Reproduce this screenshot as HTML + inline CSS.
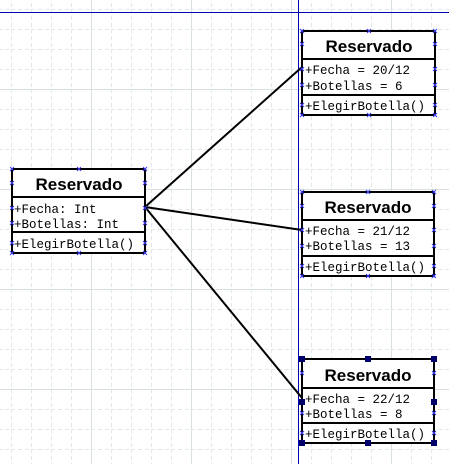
<!DOCTYPE html>
<html><head><meta charset="utf-8"><style>
html,body{margin:0;padding:0;background:#fff;}
svg{display:block}
.t{font-family:"Liberation Sans",Arial,sans-serif;font-weight:bold;font-size:17px;}
.m{font-family:"Liberation Mono",monospace;font-size:12.5px;}
</style></head><body>
<svg width="449" height="464" viewBox="0 0 449 464" xmlns="http://www.w3.org/2000/svg">
<defs>
<pattern id="minor" x="11" y="9" width="20" height="20" patternUnits="userSpaceOnUse">
<path d="M0.5 0 V20 M0 0.5 H20" stroke="#e2e8e8" stroke-width="1" stroke-dasharray="4,3" fill="none"/>
</pattern>
<pattern id="major" x="91" y="89" width="100" height="100" patternUnits="userSpaceOnUse">
<path d="M0.5 0 V100 M0 0.5 H100" stroke="#d8e0e0" stroke-width="1" fill="none"/>
</pattern>
<g id="x"><path d="M-2 -2 L2 2 M-2 2 L2 -2" stroke="#3a3af0" stroke-width="1"/></g>
</defs>
<rect width="449" height="464" fill="#fff"/>
<rect width="449" height="464" fill="url(#minor)"/>
<rect width="449" height="464" fill="url(#major)"/>
<line x1="0" y1="12.5" x2="449" y2="12.5" stroke="#0000b0" stroke-width="1"/>
<line x1="298.5" y1="0" x2="298.5" y2="464" stroke="#0000b0" stroke-width="1"/>

<g stroke="#000" stroke-width="2" fill="none">
<line x1="145" y1="207" x2="302" y2="67"/>
<line x1="145" y1="207" x2="302" y2="230"/>
<line x1="145" y1="207" x2="302" y2="398"/>
</g>

<g>
<rect x="12" y="169" width="133" height="84" fill="#fff" stroke="#000" stroke-width="2"/>
<line x1="12" y1="197" x2="145" y2="197" stroke="#000" stroke-width="2"/>
<line x1="12" y1="232" x2="145" y2="232" stroke="#000" stroke-width="2"/>
<text class="t" x="79" y="190" text-anchor="middle">Reservado</text>
<text class="m" x="14" y="213">+Fecha: Int</text>
<text class="m" x="14" y="228">+Botellas: Int</text>
<text class="m" x="14" y="248">+ElegirBotella()</text>
<use href="#x" x="12" y="169"/><use href="#x" x="79" y="169"/><use href="#x" x="145" y="169"/>
<use href="#x" x="12" y="183"/><use href="#x" x="145" y="183"/>
<use href="#x" x="12" y="208"/><use href="#x" x="145" y="208"/>
<use href="#x" x="12" y="223"/><use href="#x" x="145" y="223"/>
<use href="#x" x="12" y="243"/><use href="#x" x="145" y="243"/>
<use href="#x" x="12" y="253"/><use href="#x" x="79" y="253"/><use href="#x" x="145" y="253"/>
</g>

<g>
<rect x="302" y="31" width="133" height="84" fill="#fff" stroke="#000" stroke-width="2"/>
<line x1="302" y1="59" x2="435" y2="59" stroke="#000" stroke-width="2"/>
<line x1="302" y1="95" x2="435" y2="95" stroke="#000" stroke-width="2"/>
<text class="t" x="369" y="52" text-anchor="middle">Reservado</text>
<text class="m" x="305" y="74">+Fecha = 20/12</text>
<text class="m" x="305" y="90">+Botellas = 6</text>
<text class="m" x="305" y="110">+ElegirBotella()</text>
<use href="#x" x="302" y="31"/><use href="#x" x="369" y="31"/><use href="#x" x="435" y="31"/>
<use href="#x" x="302" y="44"/><use href="#x" x="435" y="44"/>
<use href="#x" x="302" y="69"/><use href="#x" x="435" y="69"/>
<use href="#x" x="302" y="85"/><use href="#x" x="435" y="85"/>
<use href="#x" x="302" y="105"/><use href="#x" x="435" y="105"/>
<use href="#x" x="302" y="115"/><use href="#x" x="369" y="115"/><use href="#x" x="435" y="115"/>
</g>

<g>
<rect x="302" y="192" width="132" height="84" fill="#fff" stroke="#000" stroke-width="2"/>
<line x1="302" y1="220" x2="434" y2="220" stroke="#000" stroke-width="2"/>
<line x1="302" y1="256" x2="434" y2="256" stroke="#000" stroke-width="2"/>
<text class="t" x="368" y="213" text-anchor="middle">Reservado</text>
<text class="m" x="305" y="235">+Fecha = 21/12</text>
<text class="m" x="305" y="250">+Botellas = 13</text>
<text class="m" x="305" y="271">+ElegirBotella()</text>
<use href="#x" x="302" y="192"/><use href="#x" x="368" y="192"/><use href="#x" x="434" y="192"/>
<use href="#x" x="302" y="206"/><use href="#x" x="434" y="206"/>
<use href="#x" x="302" y="230"/><use href="#x" x="434" y="230"/>
<use href="#x" x="302" y="246"/><use href="#x" x="434" y="246"/>
<use href="#x" x="302" y="266"/><use href="#x" x="434" y="266"/>
<use href="#x" x="302" y="276"/><use href="#x" x="368" y="276"/><use href="#x" x="434" y="276"/>
</g>

<g>
<rect x="302" y="359" width="132" height="84" fill="#fff" stroke="#000" stroke-width="2"/>
<line x1="302" y1="388" x2="434" y2="388" stroke="#000" stroke-width="2"/>
<line x1="302" y1="423" x2="434" y2="423" stroke="#000" stroke-width="2"/>
<text class="t" x="368" y="381" text-anchor="middle">Reservado</text>
<text class="m" x="305" y="403">+Fecha = 22/12</text>
<text class="m" x="305" y="418">+Botellas = 8</text>
<text class="m" x="305" y="438">+ElegirBotella()</text>
<use href="#x" x="302" y="373"/><use href="#x" x="434" y="373"/>
<use href="#x" x="302" y="413"/><use href="#x" x="434" y="413"/>
<use href="#x" x="302" y="433"/><use href="#x" x="434" y="433"/>
<g fill="#00006a">
<rect x="299" y="356" width="6" height="6"/><rect x="365" y="356" width="6" height="6"/><rect x="431" y="356" width="6" height="6"/>
<rect x="299" y="399" width="6" height="6"/><rect x="431" y="399" width="6" height="6"/>
<rect x="299" y="440" width="6" height="6"/><rect x="365" y="440" width="6" height="6"/><rect x="431" y="440" width="6" height="6"/>
</g>
</g>
</svg>
</body></html>
